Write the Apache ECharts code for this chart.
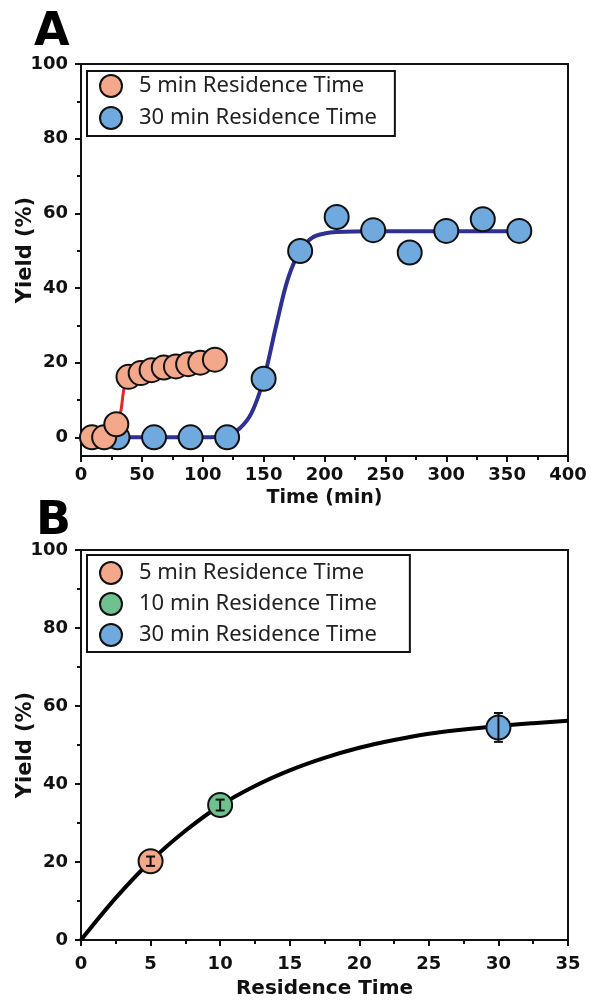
<!DOCTYPE html>
<html>
<head>
<meta charset="utf-8">
<script src="https://cdn.jsdelivr.net/npm/echarts@6/dist/echarts.min.js"></script>
<style>html,body{margin:0;padding:0;background:#fff}#c{width:594px;height:1001px}</style>
</head>
<body>
<div id="c"></div>
<script>
// ---------- Panel A data ----------
const aTime5 = [9, 19, 29, 39, 49, 58, 68, 78, 88, 98, 110];
const aYield5 = [0, 0, 3.5, 16.2, 17.2, 18, 18.7, 19, 19.6, 20, 20.8];
const aTime30 = [30, 60, 90, 120, 150, 180, 210, 240, 270, 300, 330, 360];
const aYield30 = [0, 0, 0, 0, 15.7, 49.9, 59, 55.5, 49.5, 55.3, 58.4, 55.3];
const aFit5X = [9, 19, 29, 31, 33, 35, 37, 39, 49, 58, 68, 78, 88, 98, 110];
const aFit5Y = [0, 0.3, 2.8, 4.5, 7.5, 12.5, 15.3, 16.3, 17.3, 18.1, 18.8, 19.3, 19.8, 20.3, 20.8];
const aFit30X = [30, 60, 90, 110, 120, 130, 140, 150, 160, 170, 180, 190, 200, 210, 240, 300, 360];
const aFit30Y = [0, 0, 0, 0.1, 0.6, 2.3, 6.5, 15.5, 29.5, 42.5, 50, 53.5, 54.6, 55, 55.2, 55.2, 55.2];
const aXTicks = [0, 50, 100, 150, 200, 250, 300, 350, 400];
const aYTicks = [0, 20, 40, 60, 80, 100];
const aYMinor = [10, 30, 50, 70, 90];

// ---------- Panel B data ----------
const bRes = [5, 10, 30];
const bYield = [20.2, 34.6, 54.5];
const bErr = [1.2, 1.4, 3.7];
const bFitX = [0, 2.5, 5, 7.5, 10, 12.5, 15, 17.5, 20, 22.5, 25, 27.5, 30, 32.5, 35];
const bFitY = [0, 10.8, 20.2, 28, 34.5, 39.5, 43.5, 46.7, 49.3, 51.3, 52.9, 54, 54.9, 55.6, 56.2];
const bXTicks = [0, 5, 10, 15, 20, 25, 30, 35];

const names = ['5 min Residence Time', '10 min Residence Time', '30 min Residence Time'];
const colors = ['#F4A88B', '#6FC290', '#70A9DE'];

const zip = (xs, ys) => xs.map((x, i) => [x, ys[i]]);
const ink = '#111';
const tickFont = {fontFamily: 'DejaVu Sans', fontWeight: 'bold', fontSize: 18, color: ink};
const nameFont = {fontFamily: 'DejaVu Sans', fontWeight: 'bold', fontSize: 19, color: ink};
const yNameFont = {fontFamily: 'DejaVu Sans', fontWeight: 'bold', fontSize: 21, color: ink};
const mk = (c) => ({color: c, borderColor: ink, borderWidth: 2, opacity: 1});
const legText = {fontFamily: 'Noto Sans', fontSize: 22, lineHeight: 22, color: '#222', padding: [0, 0, 0, 12]};

const chart = echarts.init(document.getElementById('c'), null, {renderer: 'canvas'});
chart.setOption({
  animation: false,
  backgroundColor: '#fff',
  graphic: [
    {type: 'text', left: 34, top: 10, style: {text: 'A', font: 'bold 46px "DejaVu Sans"', fill: '#000'}},
    {type: 'text', left: 36, top: 499, style: {text: 'B', font: 'bold 46px "DejaVu Sans"', fill: '#000'}}
  ],
  grid: [
    {left: 81, top: 64, width: 487, height: 392, show: true, borderColor: ink, borderWidth: 2, containLabel: false, outerBoundsMode: 'none'},
    {left: 81, top: 550, width: 487, height: 390, show: true, borderColor: ink, borderWidth: 2, containLabel: false, outerBoundsMode: 'none'}
  ],
  legend: [
    {
      left: 87, top: 71, orient: 'vertical', icon: 'circle', itemWidth: 22, itemHeight: 22, itemGap: 8,
      padding: [3, 18, 6, 12], borderColor: ink, borderWidth: 2, backgroundColor: '#fff',
      data: [names[0], names[2]], textStyle: legText
    },
    {
      left: 87, top: 555, orient: 'vertical', icon: 'circle', itemWidth: 22, itemHeight: 22, itemGap: 7,
      padding: [6, 33, 5, 12], borderColor: ink, borderWidth: 2, backgroundColor: '#fff',
      data: names, textStyle: legText
    }
  ],
  xAxis: [
    {
      gridIndex: 0, type: 'value', min: 0, max: 400, interval: 50,
      name: 'Time (min)', nameLocation: 'middle', nameGap: 33, nameMoveOverlap: false, nameTextStyle: nameFont,
      axisLine: {show: true, onZero: false, lineStyle: {color: ink, width: 2}},
      axisTick: {show: true, length: 6, lineStyle: {color: ink, width: 2}},
      minorTick: {show: true, splitNumber: 2, length: 4, lineStyle: {color: ink, width: 2}},
      axisLabel: Object.assign({margin: 10}, tickFont),
      splitLine: {show: false}
    },
    {
      gridIndex: 1, type: 'value', min: 0, max: 35, interval: 5,
      name: 'Residence Time', nameLocation: 'middle', nameGap: 39, nameMoveOverlap: false, nameTextStyle: Object.assign({}, nameFont, {fontSize: 20}),
      axisLine: {show: true, onZero: false, lineStyle: {color: ink, width: 2}},
      axisTick: {show: true, length: 6, lineStyle: {color: ink, width: 2}},
      minorTick: {show: true, splitNumber: 2, length: 4, lineStyle: {color: ink, width: 2}},
      axisLabel: Object.assign({margin: 15}, tickFont),
      splitLine: {show: false}
    }
  ],
  yAxis: [
    {
      gridIndex: 0, type: 'value', min: -5, max: 100, position: 'left',
      name: 'Yield (%)', nameLocation: 'middle', nameGap: 45, nameMoveOverlap: false, nameRotate: 90,
      nameTextStyle: Object.assign({padding: [0, 0, 0, 20]}, yNameFont),
      axisLine: {show: true, onZero: false, lineStyle: {color: ink, width: 2}},
      axisTick: {show: true, length: 6, customValues: aYTicks, lineStyle: {color: ink, width: 2}},
      axisLabel: Object.assign({margin: 13, customValues: aYTicks}, tickFont),
      splitLine: {show: false}
    },
    {
      gridIndex: 0, type: 'value', min: -5, max: 100, position: 'left', offset: 0,
      axisLine: {show: false, onZero: false},
      axisTick: {show: true, length: 4, customValues: aYMinor, lineStyle: {color: ink, width: 2}},
      axisLabel: {show: false},
      splitLine: {show: false}
    },
    {
      gridIndex: 1, type: 'value', min: 0, max: 100, interval: 20, position: 'left',
      name: 'Yield (%)', nameLocation: 'middle', nameGap: 45, nameMoveOverlap: false, nameRotate: 90, nameTextStyle: yNameFont,
      axisLine: {show: true, onZero: false, lineStyle: {color: ink, width: 2}},
      axisTick: {show: true, length: 6, lineStyle: {color: ink, width: 2}},
      minorTick: {show: true, splitNumber: 2, length: 4, lineStyle: {color: ink, width: 2}},
      axisLabel: Object.assign({margin: 13}, tickFont),
      splitLine: {show: false}
    }
  ],
  series: [
    {
      name: 'fit30', type: 'line', xAxisIndex: 0, yAxisIndex: 0, data: zip(aFit30X, aFit30Y),
      smooth: 0.35, showSymbol: false, lineStyle: {color: '#2E3192', width: 4}, z: 1
    },
    {
      name: 'fit5', type: 'line', xAxisIndex: 0, yAxisIndex: 0, data: zip(aFit5X, aFit5Y),
      smooth: 0.35, showSymbol: false, lineStyle: {color: '#E8252A', width: 3}, z: 2
    },
    {
      name: names[2], type: 'scatter', xAxisIndex: 0, yAxisIndex: 0, data: zip(aTime30, aYield30),
      symbol: 'circle', symbolSize: 24, itemStyle: mk(colors[2]), z: 3
    },
    {
      name: names[0], type: 'scatter', xAxisIndex: 0, yAxisIndex: 0, data: zip(aTime5, aYield5),
      symbol: 'circle', symbolSize: 24, itemStyle: mk(colors[0]), z: 4
    },
    {
      name: 'fitB', type: 'line', xAxisIndex: 1, yAxisIndex: 2, data: zip(bFitX, bFitY),
      smooth: 0.35, showSymbol: false, lineStyle: {color: '#000', width: 4}, z: 1
    },
    {
      name: names[0], type: 'scatter', xAxisIndex: 1, yAxisIndex: 2, data: [[bRes[0], bYield[0]]],
      symbol: 'circle', symbolSize: 24, itemStyle: mk(colors[0]), z: 3
    },
    {
      name: names[1], type: 'scatter', xAxisIndex: 1, yAxisIndex: 2, data: [[bRes[1], bYield[1]]],
      symbol: 'circle', symbolSize: 24, itemStyle: mk(colors[1]), z: 3
    },
    {
      name: names[2], type: 'scatter', xAxisIndex: 1, yAxisIndex: 2, data: [[bRes[2], bYield[2]]],
      symbol: 'circle', symbolSize: 24, itemStyle: mk(colors[2]), z: 3
    },
    {
      name: 'errB', type: 'custom', xAxisIndex: 1, yAxisIndex: 2, z: 5,
      data: bRes.map((x, i) => [x, bYield[i] - bErr[i], bYield[i] + bErr[i]]),
      renderItem: function (params, api) {
        const lo = api.coord([api.value(0), api.value(1)]);
        const hi = api.coord([api.value(0), api.value(2)]);
        const w = 4.5;
        const st = {stroke: ink, lineWidth: 2, fill: null};
        return {
          type: 'group',
          children: [
            {type: 'line', shape: {x1: lo[0], y1: lo[1], x2: hi[0], y2: hi[1]}, style: st},
            {type: 'line', shape: {x1: lo[0] - w, y1: lo[1], x2: lo[0] + w, y2: lo[1]}, style: st},
            {type: 'line', shape: {x1: hi[0] - w, y1: hi[1], x2: hi[0] + w, y2: hi[1]}, style: st}
          ]
        };
      }
    }
  ]
});
</script>
</body>
</html>
